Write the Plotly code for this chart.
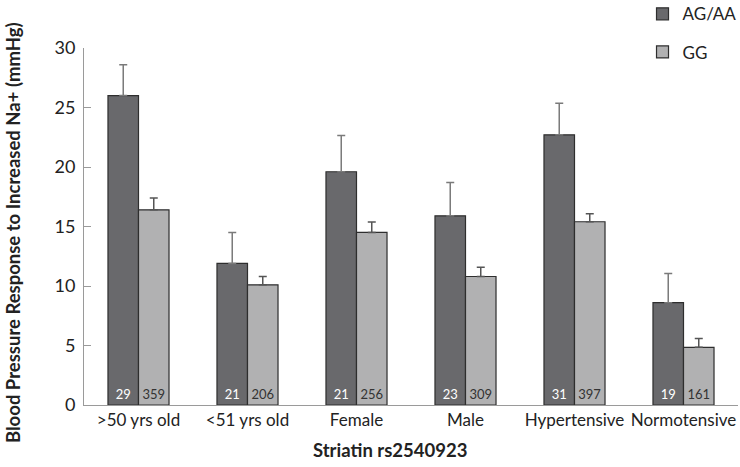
import plotly.graph_objects as go

categories = [">50 yrs old", "<51 yrs old", "Female", "Male", "Hypertensive", "Normotensive"]
ag_aa = [26.0, 11.9, 19.6, 15.9, 22.7, 8.6]
ag_aa_err = [2.6, 2.6, 3.05, 2.8, 2.65, 2.45]
ag_aa_n = [29, 21, 21, 23, 31, 19]
gg = [16.4, 10.1, 14.5, 10.8, 15.4, 4.85]
gg_err = [1.0, 0.7, 0.87, 0.77, 0.67, 0.73]
gg_n = [359, 206, 256, 309, 397, 161]

FONT = "Lato, Open Sans, sans-serif"

fig = go.Figure()
fig.add_trace(go.Bar(
    name="AG/AA", x=categories, y=ag_aa, legendgroup="a",
    marker=dict(color="#69696c", line=dict(color="#2e2e2e", width=1.2)),
    error_y=dict(type="data", array=ag_aa_err, symmetric=False, arrayminus=[0]*6,
                 color="#7a7a7a", thickness=1.5, width=4),
    text=[str(v) for v in ag_aa_n], textposition="inside", insidetextanchor="start",
    textangle=0, textfont=dict(color="white", size=13, family=FONT),
))
fig.add_trace(go.Bar(
    name="GG", x=categories, y=gg, legendgroup="b",
    marker=dict(color="#b1b1b2", line=dict(color="#2e2e2e", width=1.2)),
    error_y=dict(type="data", array=gg_err, symmetric=False, arrayminus=[0]*6,
                 color="#555555", thickness=1.5, width=4),
    text=[str(v) for v in gg_n], textposition="inside", insidetextanchor="start",
    textangle=0, textfont=dict(color="#333333", size=13, family=FONT),
))

fig.update_layout(
    width=740, height=467,
    margin=dict(l=84, r=2, t=48, b=62, autoexpand=False),
    barmode="group", bargap=0.44, bargroupgap=0,
    plot_bgcolor="white", paper_bgcolor="white",
    font=dict(family=FONT, color="#222222", size=17),
    uniformtext=dict(mode="show", minsize=12),
    legend=dict(x=0.854, y=1.145, xanchor="left", yanchor="top",
                font=dict(size=17, family=FONT, color="#222222"),
                tracegroupgap=13, bgcolor="rgba(0,0,0,0)"),
    xaxis=dict(showline=True, linecolor="#9a9a9a", linewidth=1, ticks="", automargin=False,
               tickfont=dict(size=17, family=FONT, color="#222222")),
    yaxis=dict(range=[0, 30], dtick=5, showline=True, linecolor="#9a9a9a", linewidth=1,
               ticks="inside", ticklen=7, tickcolor="#9a9a9a", showgrid=False, zeroline=False,
               automargin=False, ticklabelstandoff=4,
               tickfont=dict(size=18, family=FONT, color="#222222")),
    annotations=[
        dict(text="<b>Striatin rs2540923</b>", xref="paper", yref="paper",
             x=(390 - 84) / 654, y=-(450 - 405) / 357, xanchor="center", yanchor="middle",
             showarrow=False, font=dict(size=18.5, family=FONT, color="#222222")),
        dict(text="<b>Blood Pressure Response to Increased Na+ (mmHg)</b>", xref="paper", yref="paper",
             x=-(84 - 13) / 654, y=(405 - 233) / 357, xanchor="center", yanchor="middle",
             textangle=-90, showarrow=False, font=dict(size=18.5, family=FONT, color="#222222")),
    ],
)

fig.write_html("out.html", config={"displayModeBar": False},
               post_script="document.body.style.margin='0';document.body.style.padding='0';")
